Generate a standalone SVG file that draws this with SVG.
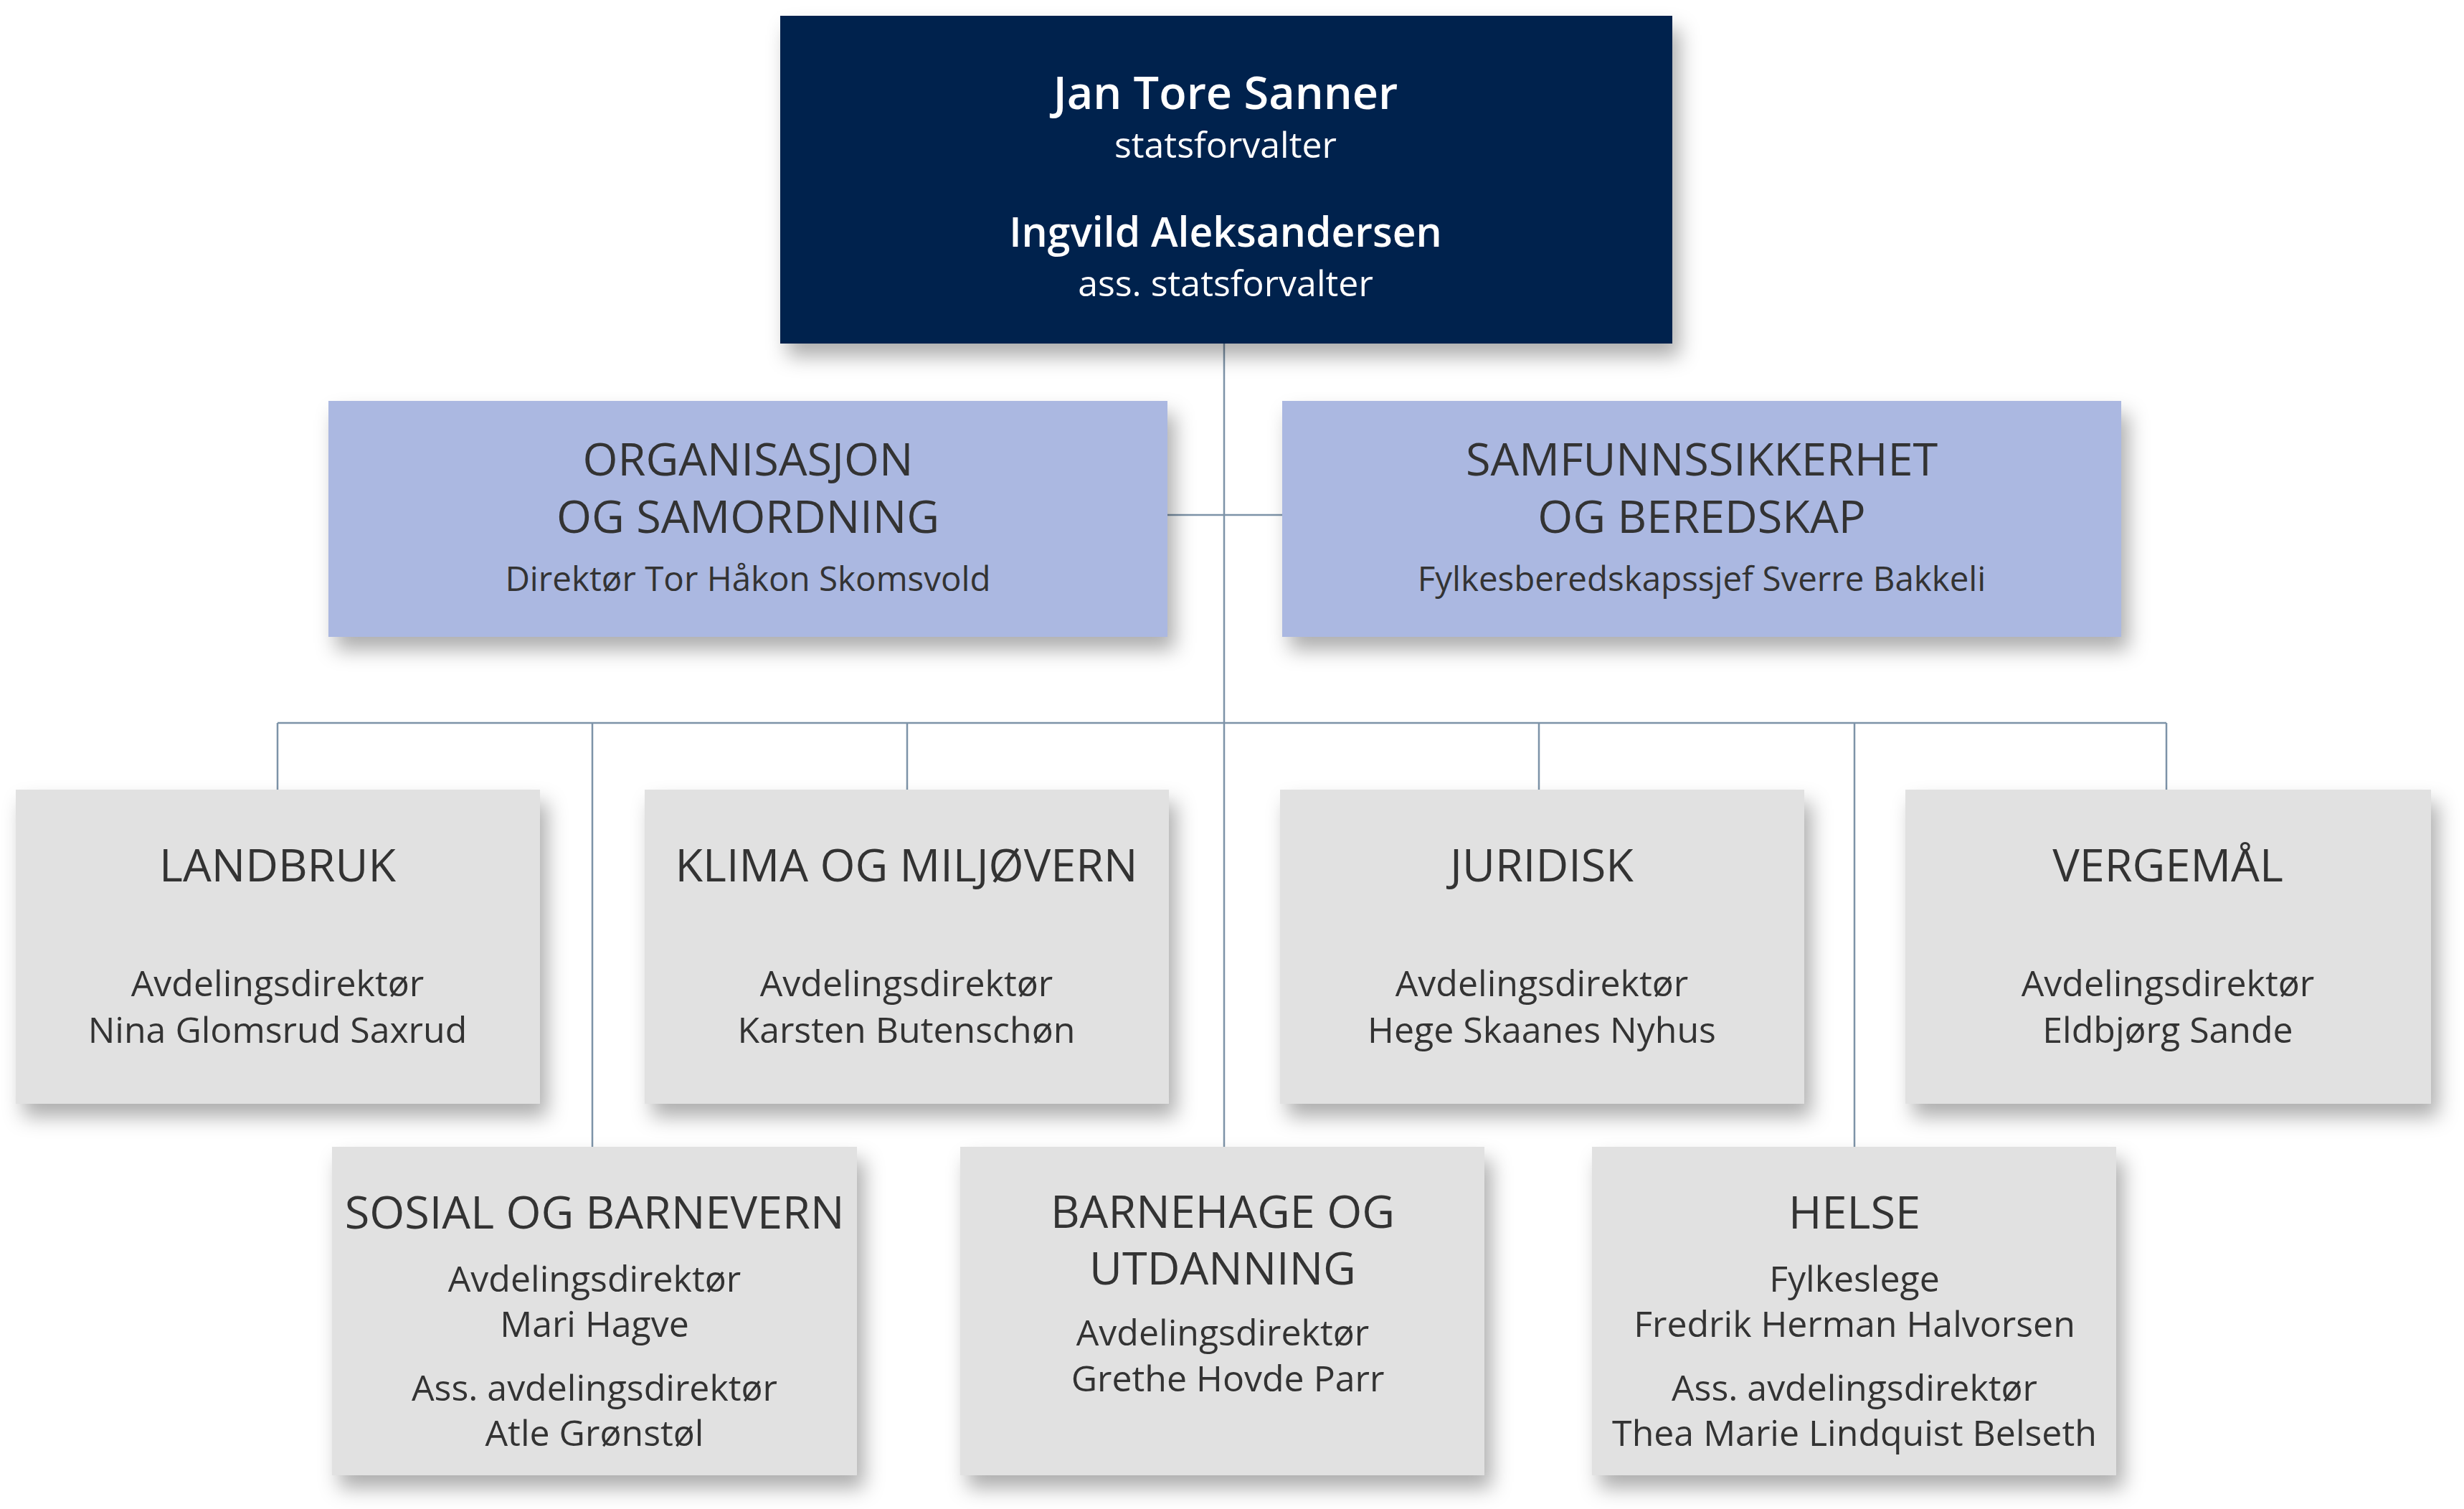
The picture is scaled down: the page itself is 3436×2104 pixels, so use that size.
<svg xmlns="http://www.w3.org/2000/svg" width="3436" height="2104" viewBox="0 0 3436 2104">
<defs>
<filter id="sh" x="-10%" y="-10%" width="125%" height="135%">
<feDropShadow dx="10" dy="18" stdDeviation="14" flood-color="#000" flood-opacity="0.32"/>
</filter>
<style>
text{font-family:"Open Sans","Noto Sans","DejaVu Sans",sans-serif;text-anchor:middle;fill:#333333}
.top{fill:#03234D}
.blue{fill:#ABB8E1}
.grey{fill:#E1E1E1}
.name{font-size:63px;font-weight:600;fill:#FFFFFF}
.name2{font-size:57px;font-weight:600;fill:#FFFFFF}
.role{font-size:50px;fill:#FFFFFF}
.h{font-size:63px}
.hs{font-size:63px}
.s{font-size:50px}
.s2{font-size:47.5px}
.ln{stroke:#7D93A8;stroke-width:2.5;fill:none}
</style>
</defs>
<rect width="3436" height="2104" fill="#FFFFFF"/>
<g id="connectors">
<path class="ln" d="M1707 478V1600M1628 718H1788M387 1008H3021M387 1008V1101M826 1008V1599M1265 1008V1101M2146 1008V1101M2586 1008V1599M3021 1008V1101"/>
</g>
<g id="statsforvalter">
<rect class="top" x="1088" y="22" width="1244" height="457" filter="url(#sh)"/>
<text class="name" x="1709" y="152">Jan Tore Sanner</text>
<text class="role" x="1709" y="220">statsforvalter</text>
<text class="name2" x="1709" y="344">Ingvild Aleksandersen</text>
<text class="role" x="1709" y="413">ass. statsforvalter</text>
</g>
<g id="organisasjon">
<rect class="blue" x="458" y="559" width="1170" height="329" filter="url(#sh)"/>
<text class="hs" x="1043" y="663">ORGANISASJON</text>
<text class="hs" x="1043" y="743">OG SAMORDNING</text>
<text class="s2" x="1043" y="824">Direktør Tor Håkon Skomsvold</text>
</g>
<g id="samfunnssikkerhet">
<rect class="blue" x="1788" y="559" width="1170" height="329" filter="url(#sh)"/>
<text class="hs" x="2373" y="663">SAMFUNNSSIKKERHET</text>
<text class="hs" x="2373" y="743">OG BEREDSKAP</text>
<text class="s2" x="2373" y="824">Fylkesberedskapssjef Sverre Bakkeli</text>
</g>
<g id="landbruk">
<rect class="grey" x="22" y="1101" width="731" height="438" filter="url(#sh)"/>
<text class="h" x="387" y="1229">LANDBRUK</text>
<text class="s" x="387" y="1389">Avdelingsdirektør</text>
<text class="s" x="387" y="1454">Nina Glomsrud Saxrud</text>
</g>
<g id="klima">
<rect class="grey" x="899" y="1101" width="731" height="438" filter="url(#sh)"/>
<text class="h" x="1264" y="1229">KLIMA OG MILJØVERN</text>
<text class="s" x="1264" y="1389">Avdelingsdirektør</text>
<text class="s" x="1264" y="1454">Karsten Butenschøn</text>
</g>
<g id="juridisk">
<rect class="grey" x="1785" y="1101" width="731" height="438" filter="url(#sh)"/>
<text class="h" x="2150" y="1229">JURIDISK</text>
<text class="s" x="2150" y="1389">Avdelingsdirektør</text>
<text class="s" x="2150" y="1454">Hege Skaanes Nyhus</text>
</g>
<g id="vergemal">
<rect class="grey" x="2657" y="1101" width="733" height="438" filter="url(#sh)"/>
<text class="h" x="3023" y="1229">VERGEMÅL</text>
<text class="s" x="3023" y="1389">Avdelingsdirektør</text>
<text class="s" x="3023" y="1454">Eldbjørg Sande</text>
</g>
<g id="sosial">
<rect class="grey" x="463" y="1599" width="732" height="458" filter="url(#sh)"/>
<text class="h" x="829" y="1713">SOSIAL OG BARNEVERN</text>
<text class="s" x="829" y="1801">Avdelingsdirektør</text>
<text class="s" x="829" y="1864">Mari Hagve</text>
<text class="s" x="829" y="1953">Ass. avdelingsdirektør</text>
<text class="s" x="829" y="2016">Atle Grønstøl</text>
</g>
<g id="barnehage">
<rect class="grey" x="1339" y="1599" width="731" height="458" filter="url(#sh)"/>
<text class="h" x="1705" y="1712">BARNEHAGE OG</text>
<text class="h" x="1705" y="1791">UTDANNING</text>
<text class="s" x="1705" y="1876">Avdelingsdirektør</text>
<text class="s" x="1712" y="1940">Grethe Hovde Parr</text>
</g>
<g id="helse">
<rect class="grey" x="2220" y="1599" width="731" height="458" filter="url(#sh)"/>
<text class="h" x="2586" y="1713">HELSE</text>
<text class="s" x="2586" y="1801">Fylkeslege</text>
<text class="s" x="2586" y="1864">Fredrik Herman Halvorsen</text>
<text class="s" x="2586" y="1953">Ass. avdelingsdirektør</text>
<text class="s" x="2586" y="2016">Thea Marie Lindquist Belseth</text>
</g>
</svg>
